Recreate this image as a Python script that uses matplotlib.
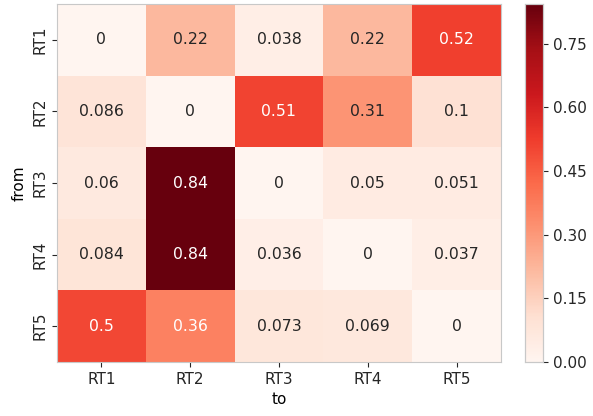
import matplotlib
matplotlib.use("Agg")
import matplotlib.pyplot as plt
import seaborn as sns
import numpy as np
import pandas as pd

# 转移矩阵数据
labels = ["RT1", "RT2", "RT3", "RT4", "RT5"]
row_rt1 = [0, 0.22, 0.038, 0.22, 0.52]
row_rt2 = [0.086, 0, 0.51, 0.31, 0.1]
row_rt3 = [0.06, 0.844, 0, 0.05, 0.051]
row_rt4 = [0.084, 0.842, 0.036, 0, 0.037]
row_rt5 = [0.5, 0.36, 0.073, 0.069, 0]

df = pd.DataFrame([row_rt1, row_rt2, row_rt3, row_rt4, row_rt5],
                  index=labels, columns=labels)

fig = plt.figure(figsize=(5.93, 4.16), dpi=100)
ax = fig.add_axes([57 / 593, 1 - 362 / 416, 444 / 593, 358 / 416])
cax = fig.add_axes([525 / 593, 1 - 362 / 416, 18 / 593, 358 / 416])

sns.heatmap(df, annot=True, cmap="Reds", ax=ax, cbar_ax=cax,
            annot_kws={"fontsize": 11.3})
ax.set_xlabel("to", fontsize=11)
ax.set_ylabel("from", fontsize=11)
ax.tick_params(labelsize=11, colors="#262626")
plt.setp(ax.get_yticklabels(), rotation=90, va="center")
plt.setp(ax.get_xticklabels(), rotation=0)

# 浅灰色边框
for sp in ax.spines.values():
    sp.set_visible(True)
    sp.set_color("#c8c8c8")
    sp.set_linewidth(0.8)

cax.yaxis.set_major_locator(matplotlib.ticker.MultipleLocator(0.15))
cax.yaxis.set_major_formatter(matplotlib.ticker.FormatStrFormatter("%.2f"))
cax.tick_params(labelsize=11, colors="#262626")
for sp in cax.spines.values():
    sp.set_visible(True)
    sp.set_color("#c8c8c8")
    sp.set_linewidth(0.8)

plt.savefig("out.png", dpi=100)
plt.close()
